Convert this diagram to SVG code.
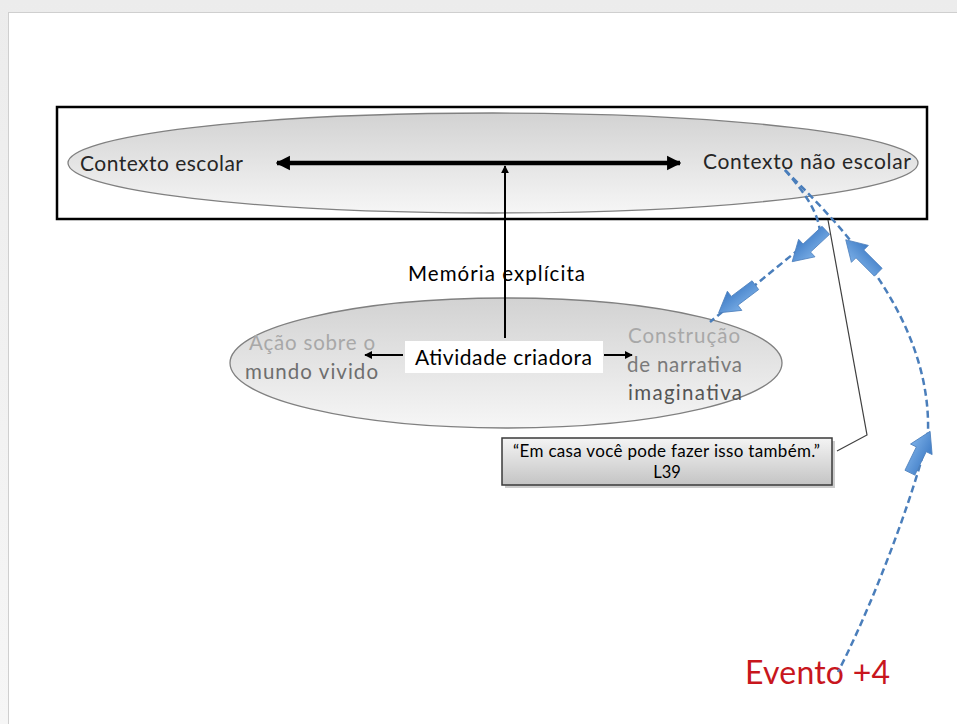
<svg xmlns="http://www.w3.org/2000/svg" width="957" height="724" viewBox="0 0 957 724">
<style>
  text { font-family: Lato, "Liberation Sans", sans-serif; }
  .lbl { font-size: 21px; fill: #262626; }
  .ell { stroke: #808080; stroke-width: 1.3; }
  .blue { fill: none; stroke: #4a7ebb; stroke-width: 2.5; stroke-dasharray: 7 4; }
  .barrow { fill: url(#gBlue); stroke: #4f81bd; stroke-width: 0.8; }
</style>
<defs>
  <linearGradient id="gBg" x1="0" y1="0" x2="0" y2="1">
    <stop offset="0" stop-color="#ececec"/>
    <stop offset="1" stop-color="#f6f6f6"/>
  </linearGradient>
  <linearGradient id="gEll" x1="0" y1="0" x2="0" y2="1">
    <stop offset="0" stop-color="#d2d2d2"/>
    <stop offset="1" stop-color="#f6f6f6"/>
  </linearGradient>
  <linearGradient id="gBox" x1="0" y1="0" x2="0" y2="1">
    <stop offset="0" stop-color="#f4f4f4"/>
    <stop offset="1" stop-color="#c4c4c4"/>
  </linearGradient>
  <linearGradient id="gBlue" x1="0" y1="0" x2="0" y2="1">
    <stop offset="0" stop-color="#7aaee6"/>
    <stop offset="1" stop-color="#3f7cc6"/>
  </linearGradient>
  <path id="blk" d="M-23,-5.5 L3,-5.5 L3,-12 L23,0 L3,12 L3,5.5 L-23,5.5 Z"/>
  <marker id="mBig" viewBox="0 0 10 10" refX="9" refY="5" markerWidth="3.2" markerHeight="3.6" orient="auto-start-reverse" markerUnits="strokeWidth">
    <path d="M0,0 L10,5 L0,10 Z" fill="#000"/>
  </marker>
  <marker id="mSm" viewBox="0 0 10 10" refX="9" refY="5" markerWidth="4" markerHeight="4" orient="auto" markerUnits="strokeWidth">
    <path d="M0,0 L10,5 L0,10 Z" fill="#000"/>
  </marker>
</defs>

<!-- page background -->
<rect x="0" y="0" width="957" height="724" fill="url(#gBg)"/>
<rect x="8.5" y="12.5" width="960" height="720" fill="#ffffff" stroke="#cfcfcf" stroke-width="1"/>

<g id="frame">
  <rect x="57" y="107" width="870" height="112" fill="#ffffff" stroke="#000" stroke-width="2.5"/>
</g>

<g id="ellipse-top">
  <ellipse class="ell" cx="493" cy="163" rx="425" ry="50" fill="url(#gEll)"/>
</g>
<g id="contexto-escolar">
  <text class="lbl" x="80" y="171" textLength="163">Contexto escolar</text>
</g>
<g id="contexto-nao-escolar">
  <text class="lbl" x="703" y="169" textLength="208">Contexto não escolar</text>
</g>

<g id="ellipse-bottom">
  <ellipse class="ell" cx="506" cy="363" rx="276" ry="65" fill="url(#gEll)"/>
</g>
<g id="acao">
  <text x="249" y="350" font-size="20.5" fill="#a8a8a8" textLength="126">Ação sobre o</text>
  <text x="245" y="379" font-size="20.5" fill="#6e6e6e" textLength="133">mundo vivido</text>
</g>
<g id="construcao">
  <text x="628" y="343" font-size="20.5" fill="#a8a8a8" textLength="112">Construção</text>
  <text x="627" y="372" font-size="20.5" fill="#7a7a7a" textLength="115">de narrativa</text>
  <text x="628" y="400" font-size="20.5" fill="#555555" textLength="114">imaginativa</text>
</g>

<g id="atividade">
  <rect x="405" y="341" width="198" height="32" fill="#ffffff"/>
  <text x="415" y="365" font-size="21" fill="#000" textLength="177">Atividade criadora</text>
</g>

<g id="memoria">
  <text x="408" y="281" font-size="20.5" fill="#000" textLength="177">Memória explícita</text>
</g>

<g id="citacao">
  <rect x="505" y="441" width="330" height="47" fill="#9a9a9a" opacity="0.5"/>
  <rect x="502" y="438" width="330" height="47" fill="url(#gBox)" stroke="#3a3a3a" stroke-width="1.5"/>
  <text x="513" y="457" font-size="17" fill="#000" textLength="307">“Em casa você pode fazer isso também.”</text>
  <text x="667" y="478" font-size="16.5" fill="#000" text-anchor="middle">L39</text>
</g>

<g id="evento">
  <text x="745" y="684" font-size="32" fill="#c8161d" textLength="145">Evento +4</text>
</g>

<g id="connectors">
  <line x1="277" y1="163" x2="680" y2="163" stroke="#000" stroke-width="4.5" marker-start="url(#mBig)" marker-end="url(#mBig)"/>
  <line x1="505" y1="338" x2="505" y2="166" stroke="#000" stroke-width="2" marker-end="url(#mSm)"/>
  <line x1="403" y1="355" x2="365" y2="355" stroke="#000" stroke-width="2" marker-end="url(#mSm)"/>
  <line x1="604" y1="355" x2="632" y2="355" stroke="#000" stroke-width="2" marker-end="url(#mSm)"/>
  <polyline points="837,451 867,435 828,220" fill="none" stroke="#404040" stroke-width="1.2"/>
  <path class="blue" d="M785,170 C802,190 818,210 820,232 L710,322"/>
  <path class="blue" d="M785,170 C805,190 830,215 850,240 C895,295 930,360 928,432 C922,470 880,590 838,672"/>
  <use href="#blk" class="barrow" transform="translate(809,246) rotate(137)"/>
  <use href="#blk" class="barrow" transform="translate(737,299) rotate(143)"/>
  <use href="#blk" class="barrow" transform="translate(862,256) rotate(-135)"/>
  <use href="#blk" class="barrow" transform="translate(920,452) rotate(-64)"/>
</g>
</svg>
